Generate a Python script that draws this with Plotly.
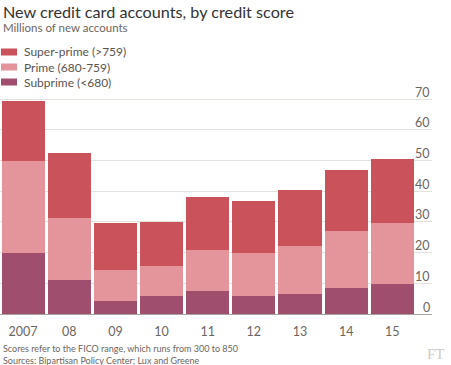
import plotly.graph_objects as go

years = ["2007", "08", "09", "10", "11", "12", "13", "14", "15"]
subprime = [19.8, 11.1, 4.1, 5.8, 7.6, 6.0, 6.5, 8.6, 9.8]
prime = [30.1, 20.2, 10.2, 9.7, 13.1, 13.9, 15.6, 18.5, 19.7]
superprime = [19.6, 21.0, 15.2, 14.4, 17.3, 17.0, 18.3, 19.8, 21.0]
yticks = [0, 10, 20, 30, 40, 50, 60, 70]

series = [
    ("Super-prime (>759)", superprime, "#c9525b"),
    ("Prime (680-759)", prime, "#e3959b"),
    ("Subprime (<680)", subprime, "#9f4e6d"),
]

W, H = 451, 365
PL, PR, PT, PB = 0, 432, 84, 314
PH = PB - PT
PW = PR - PL


def py(ypix):
    return (PB - ypix) / PH


def px(xpix):
    return (xpix - PL) / PW


fig = go.Figure()
for name, vals, col in reversed(series):
    fig.add_trace(go.Bar(x=years, y=vals, name=name, marker=dict(color=col, line=dict(width=0)),
                         showlegend=False, hoverinfo="skip"))

ann = []
shapes = []
font_family = "Lato, 'Open Sans', sans-serif"
ann.append(dict(text="New credit card accounts, by credit score", x=px(1), y=py(11), xref="paper", yref="paper",
                xanchor="left", yanchor="middle", showarrow=False,
                font=dict(size=16.2, color="#333333", family=font_family)))
ann.append(dict(text="Millions of new accounts", x=px(1), y=py(27), xref="paper", yref="paper",
                xanchor="left", yanchor="middle", showarrow=False,
                font=dict(size=11.5, color="#6b6561", family=font_family)))
leg_y = [52, 67, 82]
for (name, vals, col), ly in zip(series, leg_y):
    shapes.append(dict(type="rect", xref="paper", yref="paper", x0=px(1), x1=px(17),
                       y0=py(ly + 3.5), y1=py(ly - 3.5), fillcolor=col, line=dict(width=0)))
    ann.append(dict(text=name, x=px(22), y=py(ly), xref="paper", yref="paper",
                    xanchor="left", yanchor="middle", showarrow=False,
                    font=dict(size=12, color="#5a5450", family=font_family)))
for t in yticks:
    ann.append(dict(text=str(t), x=1, y=t, xref="paper", yref="y", xanchor="right", yanchor="middle",
                    yshift=7, showarrow=False, font=dict(size=12.5, color="#6b6561", family=font_family)))
ann.append(dict(text="Scores refer to the FICO range, which runs from 300 to 850", x=px(1), y=py(348),
                xref="paper", yref="paper", xanchor="left", yanchor="middle", showarrow=False,
                font=dict(size=9, color="#6b6561", family=font_family)))
ann.append(dict(text="Sources: Bipartisan Policy Center; Lux and Greene", x=px(1), y=py(360),
                xref="paper", yref="paper", xanchor="left", yanchor="middle", showarrow=False,
                font=dict(size=9, color="#6b6561", family=font_family)))
ann.append(dict(text="FT", x=px(447), y=py(354), xref="paper", yref="paper", xanchor="right", yanchor="middle",
                showarrow=False, font=dict(size=15, color="#cfcac6", family="'Liberation Serif', serif")))

fig.update_layout(
    width=W, height=H,
    margin=dict(l=PL, r=W - PR, t=PT, b=H - PB, pad=0),
    paper_bgcolor="white", plot_bgcolor="white",
    barmode="stack", bargap=0.066,
    annotations=ann, shapes=shapes,
    font=dict(family=font_family, color="#6b6561"),
    hovermode=False,
)
fig.update_xaxes(type="category", range=[-0.5, (PW - 0.5) / 46.1 - 0.5], showgrid=False, showline=False,
                 ticks="", tickfont=dict(size=12.5, color="#6b6561"), ticklabelstandoff=8)
fig.update_yaxes(side="right", range=[0, PH / 3.07], tickvals=yticks, showticklabels=False,
                 showgrid=True, gridcolor="#e6e1dc", gridwidth=1, zeroline=True, zerolinecolor="#a8a29e",
                 zerolinewidth=1, ticks="", showline=False)

fig.write_html("out.html", config={"displayModeBar": False},
               post_script="document.body.style.margin='0';document.body.style.overflow='hidden';")
